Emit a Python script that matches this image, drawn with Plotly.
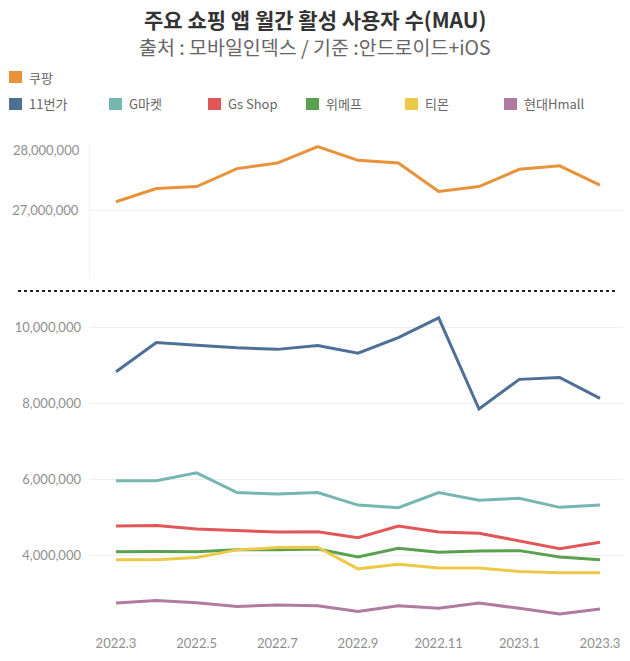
import plotly.graph_objects as go

months = ["2022.3", "2022.4", "2022.5", "2022.6", "2022.7", "2022.8", "2022.9",
          "2022.10", "2022.11", "2022.12", "2023.1", "2023.2", "2023.3"]
x_tick_labels = ["2022.3", "2022.5", "2022.7", "2022.9", "2022.11", "2023.1", "2023.3"]

coupang = [27.12e6, 27.31e6, 27.34e6, 27.60e6, 27.68e6, 27.92e6, 27.72e6,
           27.68e6, 27.27e6, 27.34e6, 27.59e6, 27.64e6, 27.36e6]
elevenst = [8.83e6, 9.60e6, 9.53e6, 9.46e6, 9.42e6, 9.52e6, 9.32e6,
            9.73e6, 10.25e6, 7.85e6, 8.63e6, 8.68e6, 8.13e6]
gmarket = [5.96e6, 5.96e6, 6.17e6, 5.65e6, 5.61e6, 5.65e6, 5.32e6,
           5.25e6, 5.65e6, 5.45e6, 5.50e6, 5.26e6, 5.32e6]
gsshop = [4.77e6, 4.78e6, 4.69e6, 4.65e6, 4.61e6, 4.62e6, 4.46e6,
          4.77e6, 4.61e6, 4.58e6, 4.38e6, 4.17e6, 4.34e6]
wemakeprice = [4.09e6, 4.10e6, 4.09e6, 4.14e6, 4.14e6, 4.16e6, 3.95e6,
               4.18e6, 4.08e6, 4.11e6, 4.12e6, 3.95e6, 3.88e6]
tmon = [3.88e6, 3.88e6, 3.94e6, 4.14e6, 4.20e6, 4.21e6, 3.64e6,
        3.76e6, 3.66e6, 3.66e6, 3.57e6, 3.54e6, 3.54e6]
hmall = [2.74e6, 2.81e6, 2.75e6, 2.65e6, 2.69e6, 2.67e6, 2.52e6,
         2.67e6, 2.60e6, 2.74e6, 2.60e6, 2.45e6, 2.58e6]

top_ticks = [27e6, 28e6]
top_tick_text = ["27,000,000", "28,000,000"]
bottom_ticks = [4e6, 6e6, 8e6, 10e6]
bottom_tick_text = ["4,000,000", "6,000,000", "8,000,000", "10,000,000"]

names = ["쿠팡", "11번가", "G마켓", "Gs Shop", "위메프", "티몬", "현대Hmall"]
colors = ["#E8923A", "#4E6F96", "#76B7B2", "#E15759", "#59A14F", "#EDC948", "#B07AA1"]
series = [coupang, elevenst, gmarket, gsshop, wemakeprice, tmon, hmall]

W, H = 630, 661
L, R, T, B = 90, 7, 141, 31
PW, PH = W - L - R, H - T - B


def px(x):
    return (x - L) / PW


def py(y):
    return (H - B - y) / PH


KFONT = "Noto Sans CJK KR"
NFONT = "Lato"

fig = go.Figure()
for i, (nm, col, vals) in enumerate(zip(names, colors, series)):
    top = i == 0
    fig.add_trace(go.Scatter(
        x=months, y=vals, name=nm, mode="lines",
        line=dict(color=col, width=3),
        xaxis="x2" if top else "x", yaxis="y2" if top else "y",
        showlegend=False,
    ))

shapes = []
annotations = []

# legend (manual swatches)
legend_pos = [(9, 77), (9, 104), (109, 104), (208, 104), (306, 104), (405, 104), (504, 104)]
for (lx, ly), nm, col in zip(legend_pos, names, colors):
    shapes.append(dict(type="rect", xref="paper", yref="paper",
                       x0=px(lx), x1=px(lx + 13), y0=py(ly + 6), y1=py(ly - 6),
                       fillcolor=col, line=dict(width=0)))
    annotations.append(dict(text=nm, xref="paper", yref="paper", x=px(lx + 18), y=py(ly),
                            xanchor="left", yanchor="middle", showarrow=False,
                            font=dict(family=KFONT, size=13, color="#666666")))

# dotted separator
shapes.append(dict(type="line", xref="paper", yref="paper",
                   x0=px(18), x1=px(617), y0=py(291), y1=py(291),
                   line=dict(color="#222222", width=2, dash="dot")))

# title & subtitle
annotations.append(dict(text="<b>주요 쇼핑 앱 월간 활성 사용자 수(MAU)</b>", xref="paper", yref="paper",
                        x=px(315), y=py(19), xanchor="center", yanchor="middle", showarrow=False,
                        font=dict(family=KFONT, size=21, color="#333333")))
annotations.append(dict(text="출처 : 모바일인덱스 / 기준 :안드로이드+iOS", xref="paper", yref="paper",
                        x=px(315), y=py(46), xanchor="center", yanchor="middle", showarrow=False,
                        font=dict(family=KFONT, size=19.5, color="#666666")))

# top-pane 28M label, nudged inside like the original
annotations.append(dict(text=top_tick_text[1], xref="paper", yref="y2", x=px(82), y=top_ticks[1],
                        yshift=-9, xanchor="right", yanchor="middle", showarrow=False,
                        font=dict(family=NFONT, size=13, color="#8f8f8f")))

fig.update_layout(
    width=W, height=H,
    margin=dict(l=L, r=R, t=T, b=B, autoexpand=False),
    paper_bgcolor="white", plot_bgcolor="white",
    shapes=shapes, annotations=annotations,
    xaxis=dict(domain=[0, 1], anchor="y", type="category", categoryorder="array",
               categoryarray=months, range=[-0.645, 12.57], automargin=False,
               tickvals=x_tick_labels, ticktext=x_tick_labels, showgrid=False,
               zeroline=False, showline=False, ticks="", ticklabelstandoff=4,
               tickfont=dict(family=NFONT, size=13, color="#8f8f8f")),
    xaxis2=dict(domain=[0, 1], anchor="y2", type="category", categoryorder="array",
                categoryarray=months, range=[-0.645, 12.57], matches="x", automargin=False,
                showticklabels=False, showgrid=False, zeroline=False, showline=False, ticks=""),
    yaxis=dict(domain=[0, py(300)], range=[2.03e6, 10.72e6], tickvals=bottom_ticks,
               ticktext=bottom_tick_text, showgrid=True, gridcolor="#f0f0f0", gridwidth=1,
               zeroline=False, showline=False, ticks="", ticklabelstandoff=8, automargin=False,
               tickfont=dict(family=NFONT, size=13, color="#8f8f8f")),
    yaxis2=dict(domain=[py(279), 1], range=[26e6, 28e6], tickvals=top_ticks,
                ticktext=[top_tick_text[0], ""], showgrid=True, gridcolor="#f0f0f0", gridwidth=1,
                zeroline=False, showline=True, linecolor="#f2f2f2", linewidth=1,
                ticks="", ticklabelstandoff=8, automargin=False,
                tickfont=dict(family=NFONT, size=13, color="#8f8f8f")),
)

fig.write_html("out.html", config={"displayModeBar": False},
               post_script="document.body.style.margin='0';document.body.style.padding='0';")
